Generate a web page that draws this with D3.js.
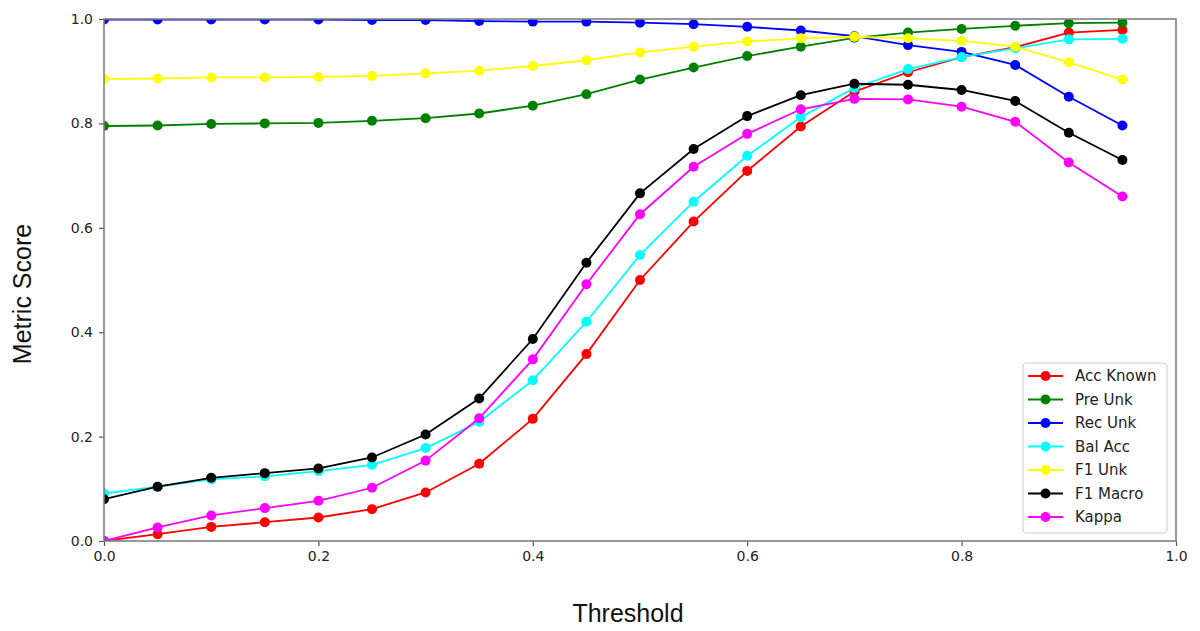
<!DOCTYPE html>
<html>
<head>
<meta charset="utf-8">
<script src="https://cdn.jsdelivr.net/npm/d3@7"></script>
<style>
  html, body { margin: 0; padding: 0; background: #fff; }
  svg { display: block; }
</style>
</head>
<body>
<svg id="chart" width="1200" height="631"></svg>
<script>
// Threshold sweep values
const thresholds = [0.00, 0.05, 0.10, 0.15, 0.20, 0.25, 0.30, 0.35, 0.40, 0.45,
                    0.50, 0.55, 0.60, 0.65, 0.70, 0.75, 0.80, 0.85, 0.90, 0.95];

const accKnown = [0.000, 0.013, 0.027, 0.036, 0.045, 0.061, 0.093, 0.148, 0.234, 0.358,
                  0.500, 0.612, 0.709, 0.794, 0.861, 0.898, 0.927, 0.946, 0.974, 0.979];
const preUnk   = [0.795, 0.796, 0.799, 0.800, 0.801, 0.805, 0.810, 0.819, 0.834, 0.856,
                  0.884, 0.907, 0.929, 0.947, 0.964, 0.974, 0.981, 0.987, 0.992, 0.993];
const recUnk   = [0.999, 0.999, 0.999, 0.999, 0.999, 0.998, 0.998, 0.996, 0.995, 0.995,
                  0.993, 0.990, 0.985, 0.978, 0.967, 0.950, 0.937, 0.912, 0.851, 0.796];
const balAcc   = [0.091, 0.104, 0.118, 0.124, 0.134, 0.146, 0.178, 0.228, 0.308, 0.420,
                  0.548, 0.650, 0.738, 0.812, 0.868, 0.904, 0.927, 0.944, 0.961, 0.962];
const f1Unk    = [0.885, 0.886, 0.888, 0.888, 0.889, 0.891, 0.896, 0.901, 0.910, 0.921,
                  0.936, 0.947, 0.957, 0.963, 0.966, 0.963, 0.958, 0.947, 0.917, 0.884];
const f1Macro  = [0.080, 0.104, 0.121, 0.130, 0.139, 0.160, 0.204, 0.273, 0.387, 0.533,
                  0.666, 0.751, 0.814, 0.854, 0.876, 0.874, 0.864, 0.843, 0.782, 0.730];
const kappa    = [0.000, 0.026, 0.049, 0.063, 0.077, 0.102, 0.154, 0.235, 0.348, 0.492,
                  0.626, 0.717, 0.780, 0.827, 0.847, 0.846, 0.832, 0.803, 0.725, 0.660];

const seriesNames  = ["Acc Known", "Pre Unk", "Rec Unk", "Bal Acc", "F1 Unk", "F1 Macro", "Kappa"];
const seriesValues = [accKnown, preUnk, recUnk, balAcc, f1Unk, f1Macro, kappa];
const seriesColors = ["#ff0000", "#008000", "#0000ff", "#00ffff", "#ffff00", "#000000", "#ff00ff"];

const xTicks = [0.0, 0.2, 0.4, 0.6, 0.8, 1.0];
const yTicks = [0.0, 0.2, 0.4, 0.6, 0.8, 1.0];

const xTitle = "Threshold";
const yTitle = "Metric Score";

// Layout
const plot = { left: 104, right: 1176, top: 19, bottom: 541 };

const svg = d3.select("#chart");

const x = d3.scaleLinear().domain([0, 1]).range([plot.left, plot.right]);
const y = d3.scaleLinear().domain([0, 1]).range([plot.bottom, plot.top]);

svg.append("defs").append("clipPath").attr("id", "plot-clip")
  .append("rect")
  .attr("x", plot.left).attr("y", plot.top)
  .attr("width", plot.right - plot.left)
  .attr("height", plot.bottom - plot.top);

// Series lines with round markers
const line = d3.line()
  .x((d, i) => x(thresholds[i]))
  .y(d => y(d));

const plotG = svg.append("g").attr("clip-path", "url(#plot-clip)");

seriesValues.forEach((vals, k) => {
  const g = plotG.append("g");
  g.append("path")
    .datum(vals)
    .attr("d", line)
    .attr("fill", "none")
    .attr("stroke", seriesColors[k])
    .attr("stroke-width", 1.8);
  g.selectAll("circle")
    .data(vals)
    .join("circle")
    .attr("cx", (d, i) => x(thresholds[i]))
    .attr("cy", d => y(d))
    .attr("r", 5)
    .attr("fill", seriesColors[k]);
});

// Axes
const tickFont = "DejaVu Sans, sans-serif";

const xAxis = d3.axisBottom(x).tickValues(xTicks).tickFormat(d3.format(".1f"))
  .tickSize(5).tickPadding(5);
const yAxis = d3.axisLeft(y).tickValues(yTicks).tickFormat(d3.format(".1f"))
  .tickSize(5).tickPadding(6);

const gx = svg.append("g").attr("transform", `translate(0,${plot.bottom})`).call(xAxis);
const gy = svg.append("g").attr("transform", `translate(${plot.left},0)`).call(yAxis);

[gx, gy].forEach(g => {
  g.select(".domain").remove();
  g.selectAll(".tick line").attr("stroke", "#555").attr("stroke-width", 1.2);
  g.selectAll(".tick text")
    .attr("fill", "#222")
    .style("font-family", tickFont)
    .style("font-size", "14px");
});

// Frame
svg.append("rect")
  .attr("x", plot.left).attr("y", plot.top)
  .attr("width", plot.right - plot.left)
  .attr("height", plot.bottom - plot.top)
  .attr("fill", "none")
  .attr("stroke", "#808080")
  .attr("stroke-width", 1.6);

// Axis titles
svg.append("text")
  .attr("x", (plot.left + plot.right) / 2 - 12)
  .attr("y", 622)
  .attr("text-anchor", "middle")
  .style("font-family", "Liberation Sans, Arial, sans-serif")
  .style("font-size", "25px")
  .attr("fill", "#111")
  .text(xTitle);

svg.append("text")
  .attr("transform", `translate(31,${(plot.top + plot.bottom) / 2 + 14}) rotate(-90)`)
  .attr("text-anchor", "middle")
  .style("font-family", "Liberation Sans, Arial, sans-serif")
  .style("font-size", "25px")
  .attr("fill", "#111")
  .text(yTitle);

// Legend
const legend = { x: 1023, y: 363, w: 144, h: 170, rowTop: 376, rowGap: 23.5 };
const lg = svg.append("g");
lg.append("rect")
  .attr("x", legend.x).attr("y", legend.y)
  .attr("width", legend.w).attr("height", legend.h)
  .attr("rx", 3)
  .attr("fill", "#fff")
  .attr("fill-opacity", 0.8)
  .attr("stroke", "#cccccc")
  .attr("stroke-width", 1);

seriesNames.forEach((name, k) => {
  const cy = legend.rowTop + k * legend.rowGap;
  lg.append("line")
    .attr("x1", 1028).attr("x2", 1063)
    .attr("y1", cy).attr("y2", cy)
    .attr("stroke", seriesColors[k]).attr("stroke-width", 1.8);
  lg.append("circle")
    .attr("cx", 1045.5).attr("cy", cy).attr("r", 5)
    .attr("fill", seriesColors[k]);
  lg.append("text")
    .attr("x", 1075).attr("y", cy)
    .attr("dy", "0.36em")
    .style("font-family", tickFont)
    .style("font-size", "15px")
    .attr("fill", "#222")
    .text(name);
});
</script>
</body>
</html>
